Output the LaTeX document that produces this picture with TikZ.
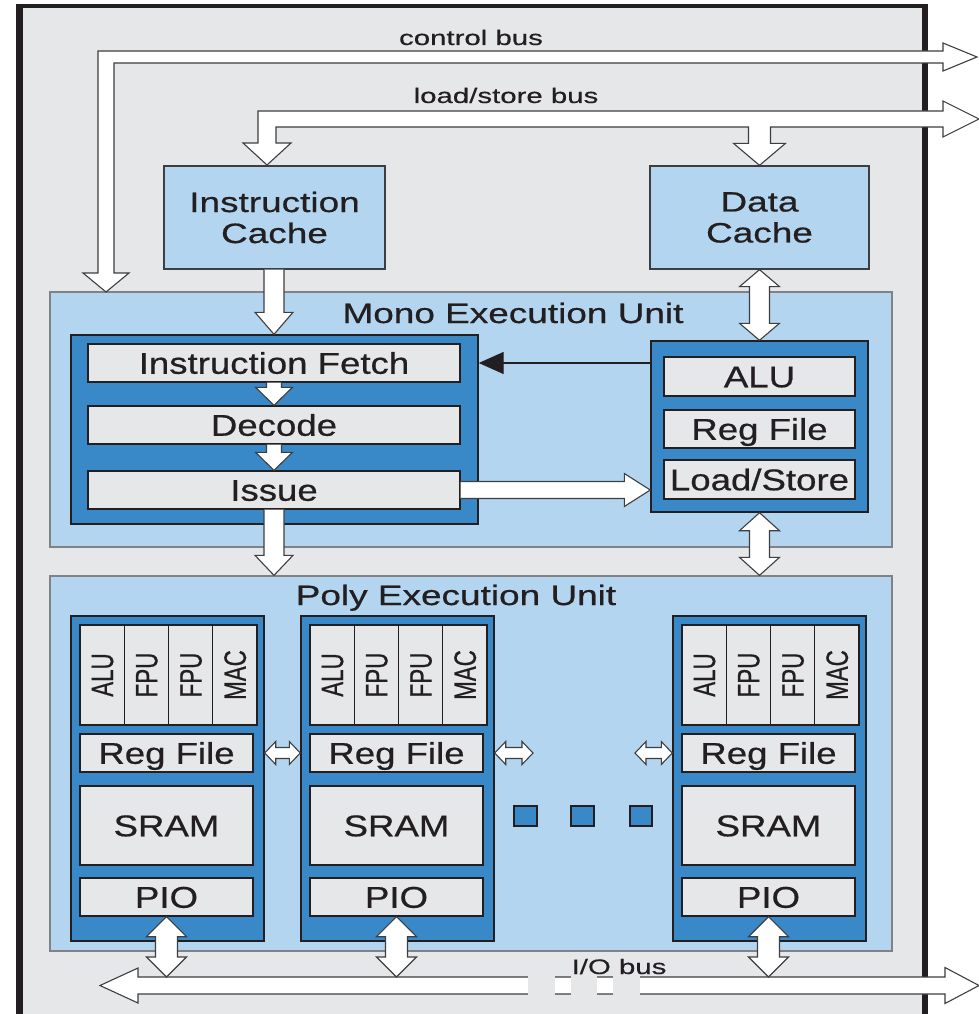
\documentclass[tikz,border=0pt]{standalone}
\usepackage{fontspec}
\setmainfont{Liberation Sans}
\newfontfamily\busfam[FakeStretch=1.4, FakeBold=0.4]{Liberation Sans}
\newfontfamily\capfam[FakeStretch=1.32, FakeBold=0.6]{Liberation Sans}
\newfontfamily\cellfam[FakeStretch=1.22, FakeBold=0.6]{Liberation Sans}
\newfontfamily\fufam[FakeStretch=0.72, FakeBold=0.6]{Liberation Sans}
\usetikzlibrary{arrows.meta,calc}

\definecolor{bggray}{RGB}{230,231,232}
\definecolor{paleblue}{RGB}{179,213,240}
\definecolor{midblue}{RGB}{57,136,200}
\definecolor{inkdark}{RGB}{35,31,32}
\definecolor{rimgray}{RGB}{128,130,133}
\definecolor{edgegray}{RGB}{62,62,64}

\tikzset{
  buslabel/.style={font=\busfam\fontsize{21}{24}\selectfont, text=inkdark, inner sep=0pt, text height=15pt, text depth=0pt},
  titlelabel/.style={font=\capfam\fontsize{28}{31}\selectfont, text=inkdark, inner sep=0pt, text height=20pt, text depth=0pt},
  cachebox/.style={draw=edgegray, fill=paleblue, line width=1.3pt, inner sep=0pt, align=center,
    font=\capfam\fontsize{28}{31}\selectfont, text=inkdark},
  panelbox/.style={draw=rimgray, fill=paleblue, line width=1.3pt},
  unitbox/.style={draw=inkdark, fill=midblue, line width=1.4pt},
  cellbox/.style={draw=inkdark, fill=bggray, line width=1.4pt, inner sep=0pt,
    font=\cellfam\fontsize{30}{34}\selectfont, text=inkdark, text height=21.5pt, text depth=0pt},
  fulabel/.style={rotate=90, inner sep=0pt, font=\fufam\fontsize{31}{34}\selectfont, text=inkdark,
    text height=22pt, text depth=0pt},
  dotbox/.style={draw=inkdark, fill=midblue, line width=1.2pt},
  blockarrow/.style={draw=edgegray, fill=white, line width=1.1pt, line join=miter},
  feedback/.style={draw=inkdark, line width=1.4pt, -{Triangle[length=25pt,width=22pt]}},
}

% rectangle node given by its corners (x1,y1) and (x2,y2)
\newcommand{\boxnode}[7]{%
  \node[#1, minimum width={(#5)-(#3)}, minimum height={(#6)-(#4)}] (#2)
    at ({((#3)+(#5))/2},{((#4)+(#6))/2}) {#7};}

% downward block arrow: from, tip, shaft half width, head half width, head length
\newcommand{\downblock}[5]{%
  \draw[blockarrow] let \p1=(#1), \p2=(#2) in
    (\x2-#3,\y1) -- (\x2-#3,\y2+#5) -- (\x2-#4,\y2+#5) -- (\x2,\y2)
    -- (\x2+#4,\y2+#5) -- (\x2+#3,\y2+#5) -- (\x2+#3,\y1);}

% rightward block arrow
\newcommand{\rightblock}[5]{%
  \draw[blockarrow] let \p1=(#1), \p2=(#2) in
    (\x1,\y2+#3) -- (\x2-#5,\y2+#3) -- (\x2-#5,\y2+#4) -- (\x2,\y2)
    -- (\x2-#5,\y2-#4) -- (\x2-#5,\y2-#3) -- (\x1,\y2-#3);}

% vertical two-headed block arrow: top tip, bottom tip
\newcommand{\vdouble}[5]{%
  \draw[blockarrow] let \p1=(#1), \p2=(#2) in
    (\x1,\y1) -- (\x1+#4,\y1-#5) -- (\x1+#3,\y1-#5) -- (\x1+#3,\y2+#5)
    -- (\x1+#4,\y2+#5) -- (\x1,\y2) -- (\x1-#4,\y2+#5) -- (\x1-#3,\y2+#5)
    -- (\x1-#3,\y1-#5) -- (\x1-#4,\y1-#5) -- cycle;}

% horizontal two-headed block arrow: left tip, right tip
\newcommand{\hdouble}[5]{%
  \draw[blockarrow] let \p1=(#1), \p2=(#2) in
    (\x1,\y1) -- (\x1+#5,\y1+#4) -- (\x1+#5,\y1+#3) -- (\x2-#5,\y1+#3)
    -- (\x2-#5,\y1+#4) -- (\x2,\y1) -- (\x2-#5,\y1-#4) -- (\x2-#5,\y1-#3)
    -- (\x1+#5,\y1-#3) -- (\x1+#5,\y1-#4) -- cycle;}

% one processing element of the poly unit: name, left edge
\newcommand{\peunit}[2]{%
  \boxnode{unitbox}{#1}{#2}{616}{#2+193}{941}{}
  \boxnode{cellbox}{#1u1}{#2+9}{625}{#2+53.25}{725}{}
  \boxnode{cellbox}{#1u2}{#2+53.25}{625}{#2+97.5}{725}{}
  \boxnode{cellbox}{#1u3}{#2+97.5}{625}{#2+141.75}{725}{}
  \boxnode{cellbox}{#1u4}{#2+141.75}{625}{#2+186}{725}{}
  \node[fulabel] (#1t1) at (#1u1) {ALU};
  \node[fulabel] (#1t2) at (#1u2) {FPU};
  \node[fulabel] (#1t3) at (#1u3) {FPU};
  \node[fulabel] (#1t4) at (#1u4) {MAC};
  \boxnode{cellbox}{#1reg}{#2+9}{734}{#2+182}{772}{Reg File}
  \boxnode{cellbox}{#1sram}{#2+9}{786}{#2+182}{865}{SRAM}
  \boxnode{cellbox}{#1pio}{#2+9}{878}{#2+182}{916}{PIO}
}

\begin{document}
\begin{tikzpicture}[x=1pt,y=-1pt]
\useasboundingbox (0,0) rectangle (979,1014);
\clip (0,0) rectangle (979,1014);

% chip outline
\fill[bggray] (19.4,6.2) rectangle (925,1030);
\draw[inkdark, line width=4.5pt] (16.2,6.2) -- (928,6.2);
\draw[inkdark, line width=6.5pt] (19.4,4) -- (19.4,1030);
\draw[inkdark, line width=6pt] (925,4) -- (925,1030);

% caches
\boxnode{cachebox}{icache}{164}{166}{385}{269}{Instruction\\Cache}
\boxnode{cachebox}{dcache}{650}{166}{869}{269}{Data\\Cache}

% execution unit panels
\boxnode{panelbox}{mono}{50}{292}{892}{547}{}
\boxnode{panelbox}{poly}{50}{576}{892}{951}{}
\node[titlelabel] (monoTitle) at (513,313) {Mono Execution Unit};
\node[titlelabel] (polyTitle) at (456,595) {Poly Execution Unit};

% control bus
\coordinate (ctrlTip) at (106,292);
\coordinate (ctrlOut) at (977,57);
\draw[blockarrow] let \p1=(ctrlTip), \p2=(ctrlOut) in
  (\x2,\y2) -- (\x2-34pt,\y2-14pt) -- (\x2-34pt,\y2-6pt) -- (\x1+8pt,\y2-6pt)
  -- (\x1+8pt,\y1+19pt) -- (\x1+23pt,\y1+19pt) -- (\x1,\y1) -- (\x1-23pt,\y1+19pt)
  -- (\x1-8pt,\y1+19pt) -- (\x1-8pt,\y2+6pt) -- (\x2-34pt,\y2+6pt)
  -- (\x2-34pt,\y2+14pt) -- cycle;
\node[buslabel] (ctrlLabel) at (471,37.5) {control bus};

% load/store bus
\coordinate (lsLeft) at (267,165);
\coordinate (lsRight) at (dcache.north);
\coordinate (lsOut) at (979,119);
\draw[blockarrow] let \p1=(lsLeft), \p2=(lsRight), \p3=(lsOut) in
  (\x3,\y3) -- (\x3-36pt,\y3-18pt) -- (\x3-36pt,\y3-8pt) -- (\x2+11pt,\y3-8pt)
  -- (\x2+11pt,\y2+22pt) -- (\x2+26pt,\y2+22pt) -- (\x2,\y2) -- (\x2-26pt,\y2+22pt)
  -- (\x2-11pt,\y2+22pt) -- (\x2-11pt,\y3-8pt) -- (\x1+9pt,\y3-8pt)
  -- (\x1+9pt,\y1+22pt) -- (\x1+24pt,\y1+22pt) -- (\x1,\y1) -- (\x1-24pt,\y1+22pt)
  -- (\x1-9pt,\y1+22pt) -- (\x1-9pt,\y3+8pt) -- (\x3-36pt,\y3+8pt)
  -- (\x3-36pt,\y3+18pt) -- cycle;
\node[buslabel] (lsLabel) at (506,95.5) {load/store bus};

% mono unit: sequencer
\boxnode{unitbox}{monoL}{71}{335}{478}{524}{}
\boxnode{cellbox}{fetch}{88}{344}{460}{382}{Instruction Fetch}
\boxnode{cellbox}{decode}{88}{406}{460}{444}{Decode}
\boxnode{cellbox}{issue}{88}{471}{460}{509}{Issue}

% mono unit: data path
\boxnode{unitbox}{monoR}{651}{341}{868}{512}{}
\boxnode{cellbox}{alu}{664}{357}{855}{396}{ALU}
\boxnode{cellbox}{regfile}{664}{410}{855}{448}{Reg File}
\boxnode{cellbox}{ldst}{664}{460}{855}{499}{Load/Store}

% mono unit flow
\downblock{icache.south}{fetch.north |- monoL.north}{10pt}{19pt}{22pt}
\downblock{fetch.south}{decode.north}{7.5pt}{18.5pt}{18pt}
\downblock{decode.south}{issue.north}{7.5pt}{18.5pt}{18pt}
\downblock{issue.south}{issue.south |- poly.north}{10pt}{19pt}{20pt}
\rightblock{issue.east}{monoR.west |- issue.east}{8.5pt}{16.5pt}{26pt}
\draw[feedback] (monoR.west |- fetch.east) -- (monoL.east |- fetch.east);
\vdouble{dcache.south}{monoR.north}{10pt}{20pt}{17pt}
\vdouble{monoR.south}{monoR.south |- poly.north}{10pt}{20pt}{18pt}

% poly unit: processing elements
\peunit{pe1}{71}
\peunit{pe2}{301}
\peunit{pe3}{673}

% neighbour links
\coordinate (gapR) at (533,753);
\coordinate (gapL) at (635,753);
\hdouble{pe1.east |- pe1reg}{pe2.west |- pe2reg}{5.5pt}{11.5pt}{11pt}
\hdouble{pe2.east |- pe2reg}{gapR}{5.5pt}{11.5pt}{11pt}
\hdouble{gapL}{pe3.west |- pe3reg}{5.5pt}{11.5pt}{11pt}

% ellipsis between elements
\boxnode{dotbox}{dot1}{514}{806}{537}{826}{}
\boxnode{dotbox}{dot2}{571}{806}{594}{826}{}
\boxnode{dotbox}{dot3}{630}{806}{652}{826}{}

% I/O bus
\coordinate (ioL) at (100,985.5);
\coordinate (ioR) at (979,985.5);
\coordinate (ioTop) at (500,977);
\draw[blockarrow] let \p1=(ioL), \p2=(ioR) in
  (\x1,\y1) -- (\x1+38pt,\y1+17.5pt) -- (\x1+38pt,\y1+8.5pt) -- (\x2-34pt,\y1+8.5pt)
  -- (\x2-34pt,\y1+18pt) -- (\x2,\y1) -- (\x2-34pt,\y1-18pt) -- (\x2-34pt,\y1-8.5pt)
  -- (\x1+38pt,\y1-8.5pt) -- (\x1+38pt,\y1-17.5pt) -- cycle;
\fill[bggray] (528,974.5) rectangle (555,996.5);
\fill[bggray] (571,974.5) rectangle (597,996.5);
\fill[bggray] (613,974.5) rectangle (640,996.5);
\node[buslabel] (ioLabel) at (619,966.5) {I/O bus};

\vdouble{pe1pio.south}{pe1pio.south |- ioTop}{11pt}{20pt}{20pt}
\vdouble{pe2pio.south}{pe2pio.south |- ioTop}{11pt}{20pt}{20pt}
\vdouble{pe3pio.south}{pe3pio.south |- ioTop}{11pt}{20pt}{20pt}
\end{tikzpicture}
\end{document}
